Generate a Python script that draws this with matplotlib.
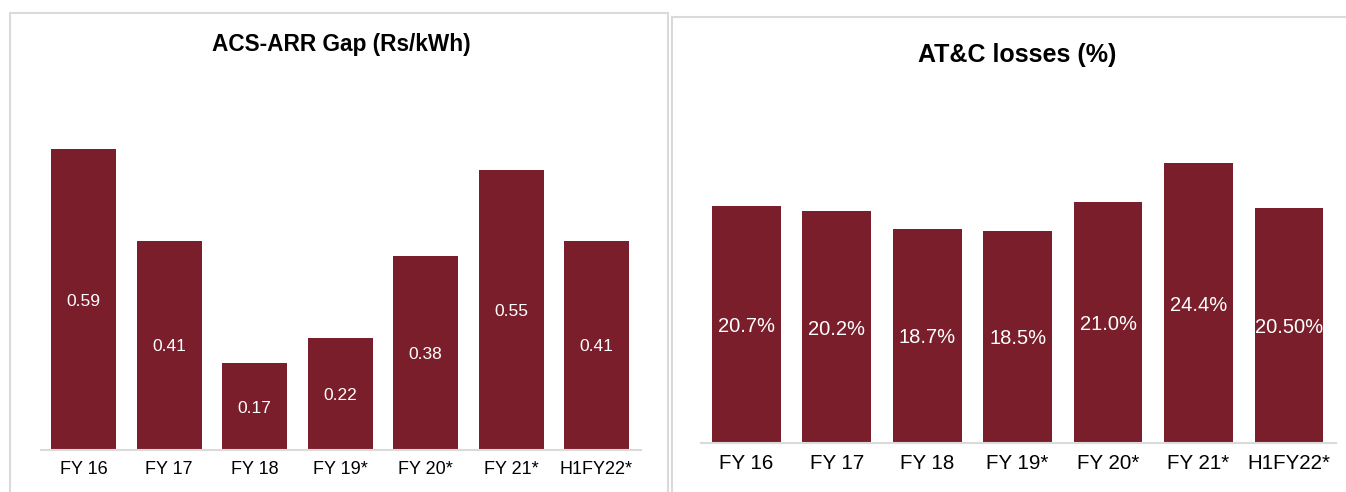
import matplotlib
matplotlib.use("Agg")
import matplotlib.pyplot as plt
from matplotlib.patches import Rectangle

plt.rcParams["font.family"] = ["Liberation Sans", "DejaVu Sans"]

years = ["FY 16", "FY 17", "FY 18", "FY 19*", "FY 20*", "FY 21*", "H1FY22*"]
gap_values = [0.59, 0.41, 0.17, 0.22, 0.38, 0.55, 0.41]
gap_labels = ["0.59", "0.41", "0.17", "0.22", "0.38", "0.55", "0.41"]
atc_values = [20.7, 20.2, 18.7, 18.5, 21.0, 24.4, 20.50]
atc_labels = ["20.7%", "20.2%", "18.7%", "18.5%", "21.0%", "24.4%", "20.50%"]

BAR = "#7A1E2B"
FRAME = "#DADADA"

W, H = 1346, 492
fig = plt.figure(figsize=(W / 100, H / 100), dpi=100)


def px_box(x0, y0, x1, y1):
    # pixel box (top-left origin) -> figure fraction [left, bottom, width, height]
    return [x0 / W, 1 - y1 / H, (x1 - x0) / W, (y1 - y0) / H]


# panel frames
for (x0, y0, x1, y1) in [(10, 13, 668, 500), (672, 17, 1352, 500)]:
    fig.patches.append(Rectangle((x0 / W, 1 - y1 / H), (x1 - x0) / W, (y1 - y0) / H,
                                 transform=fig.transFigure, fill=False,
                                 edgecolor=FRAME, linewidth=1.5))


def bar_panel(ax, vals, labels, ymax, lab_size, tick_size):
    x = range(len(vals))
    bars = ax.bar(x, vals, width=0.76, color=BAR, zorder=2)
    for b, v, t in zip(bars, vals, labels):
        ax.text(b.get_x() + b.get_width() / 2, v / 2, t, ha="center",
                va="center_baseline", color="white", fontsize=lab_size)
    ax.set_xlim(-0.5, 6.52)
    ax.set_ylim(0, ymax)
    ax.set_xticks(list(x))
    ax.set_xticklabels(years, fontsize=tick_size)
    ax.tick_params(axis="x", length=0, pad=8)
    ax.set_yticks([])
    for s in ["top", "right", "left"]:
        ax.spines[s].set_visible(False)
    ax.spines["bottom"].set_color(FRAME)
    ax.spines["bottom"].set_linewidth(1.5)
    ax.patch.set_visible(False)


ax1 = fig.add_axes(px_box(41, 450 - 0.7 * 510, 641, 450))
bar_panel(ax1, gap_values, gap_labels, 0.7, 12.5, 13)

ax2 = fig.add_axes(px_box(701, 443 - 28 * 11.47, 1336, 443))
bar_panel(ax2, atc_values, atc_labels, 28, 14.5, 14.8)

fig.text(341 / W, 1 - 45 / H, "ACS-ARR Gap (Rs/kWh)", ha="center", va="center",
         fontsize=16.3, fontweight="bold")
fig.text(1017 / W, 1 - 55 / H, "AT&C losses (%)", ha="center", va="center",
         fontsize=18, fontweight="bold")

fig.savefig("out.png", dpi=100)
